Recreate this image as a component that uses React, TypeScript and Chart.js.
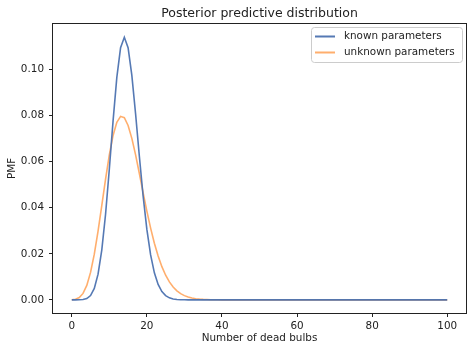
import React, { useEffect, useRef } from "react";
import { Chart, registerables } from "chart.js";

Chart.register(...registerables);

const numDead = [
  0, 1, 2, 3, 4, 5, 6, 7, 8, 9, 10, 11, 12, 13, 14, 15, 16, 17, 18, 19, 20,
  21, 22, 23, 24, 25, 26, 27, 28, 29, 30, 31, 32, 33, 34, 35, 36, 37, 38, 39, 40,
  41, 42, 43, 44, 45, 46, 47, 48, 49, 50, 51, 52, 53, 54, 55, 56, 57, 58, 59, 60,
  61, 62, 63, 64, 65, 66, 67, 68, 69, 70, 71, 72, 73, 74, 75, 76, 77, 78, 79, 80,
  81, 82, 83, 84, 85, 86, 87, 88, 89, 90, 91, 92, 93, 94, 95, 96, 97, 98, 99, 100,
];

const knownParams = [
  0.0, 0.0, 0.00003, 0.00014, 0.00058, 0.00187, 0.00496, 0.01115, 0.02172, 0.0372,
  0.05671, 0.07774, 0.0966, 0.10955, 0.11405, 0.10955, 0.09751, 0.08072, 0.06236, 0.04509,
  0.0306, 0.01953, 0.01175, 0.00668, 0.00359, 0.00183, 0.00088, 0.00041, 0.00018, 0.00007,
  0.00003, 0.00001, 0, 0, 0, 0, 0, 0, 0, 0,
  0, 0, 0, 0, 0, 0, 0, 0, 0, 0,
  0, 0, 0, 0, 0, 0, 0, 0, 0, 0,
  0, 0, 0, 0, 0, 0, 0, 0, 0, 0,
  0, 0, 0, 0, 0, 0, 0, 0, 0, 0,
  0, 0, 0, 0, 0, 0, 0, 0, 0, 0,
  0, 0, 0, 0, 0, 0, 0, 0, 0, 0,
  0,
];

const unknownParams = [
  0.00003, 0.00025, 0.001, 0.0028, 0.00628, 0.01192, 0.01986, 0.02981, 0.04102, 0.05243,
  0.06291, 0.0714, 0.07712, 0.0797, 0.07913, 0.07576, 0.07013, 0.06295, 0.05489, 0.0466,
  0.03857, 0.03117, 0.02462, 0.01903, 0.01441, 0.0107, 0.0078, 0.00558, 0.00392, 0.00271,
  0.00184, 0.00122, 0.00081, 0.00052, 0.00033, 0.00021, 0.00013, 0.00008, 0.00005, 0.00003,
  0.00002, 0, 0, 0, 0, 0, 0, 0, 0, 0,
  0, 0, 0, 0, 0, 0, 0, 0, 0, 0,
  0, 0, 0, 0, 0, 0, 0, 0, 0, 0,
  0, 0, 0, 0, 0, 0, 0, 0, 0, 0,
  0, 0, 0, 0, 0, 0, 0, 0, 0, 0,
  0, 0, 0, 0, 0, 0, 0, 0, 0, 0,
  0,
];

const xTicks = [0, 20, 40, 60, 80, 100];
const yTicks = [0, 0.02, 0.04, 0.06, 0.08, 0.1];

const seriesLabels = ["known parameters", "unknown parameters"];
const seriesColors = ["rgba(76,114,176,0.95)", "rgba(255,135,40,0.68)"];

const titleText = "Posterior predictive distribution";
const xTitle = "Number of dead bulbs";
const yTitle = "PMF";

const FONT = "'DejaVu Sans', Verdana, sans-serif";
const TEXT = "#222222";
const SMALL = 10.4;
const BIG = 12.5;

const framePlugin = {
  id: "frameAndExtras",
  afterDraw(chart: any) {
    const { ctx, chartArea } = chart;
    const { left, right, top, bottom } = chartArea;
    ctx.save();
    ctx.strokeStyle = "#222222";
    ctx.lineWidth = 1;
    ctx.strokeRect(Math.round(left) - 0.5, Math.round(top) - 0.5, Math.round(right - left) + 1, Math.round(bottom - top) + 1);
    ctx.fillStyle = TEXT;
    ctx.font = `${BIG}px ${FONT}`;
    ctx.textAlign = "center";
    ctx.textBaseline = "alphabetic";
    ctx.fillText(titleText, (left + right) / 2, 17);
    const bx = 311.5, by = 27.5, bw = 151, bh = 35, r = 3;
    ctx.beginPath();
    ctx.moveTo(bx + r, by);
    ctx.lineTo(bx + bw - r, by);
    ctx.arcTo(bx + bw, by, bx + bw, by + r, r);
    ctx.lineTo(bx + bw, by + bh - r);
    ctx.arcTo(bx + bw, by + bh, bx + bw - r, by + bh, r);
    ctx.lineTo(bx + r, by + bh);
    ctx.arcTo(bx, by + bh, bx, by + bh - r, r);
    ctx.lineTo(bx, by + r);
    ctx.arcTo(bx, by, bx + r, by, r);
    ctx.closePath();
    ctx.fillStyle = "rgba(255,255,255,0.8)";
    ctx.fill();
    ctx.strokeStyle = "#cccccc";
    ctx.lineWidth = 1;
    ctx.stroke();
    const rows = [36.5, 52.5];
    chart.data.datasets.forEach((ds: any, i: number) => {
      const y = rows[i];
      ctx.strokeStyle = ds.borderColor;
      ctx.lineWidth = 2;
      ctx.beginPath();
      ctx.moveTo(315, y);
      ctx.lineTo(335, y);
      ctx.stroke();
      ctx.fillStyle = TEXT;
      ctx.font = `${SMALL}px ${FONT}`;
      ctx.textAlign = "left";
      ctx.textBaseline = "middle";
      ctx.fillText(ds.label, 344, y);
    });
    ctx.restore();
  },
};

export default function App() {
  const ref = useRef<HTMLCanvasElement | null>(null);

  useEffect(() => {
    document.body.style.margin = "0";
    const canvas = ref.current;
    if (!canvas) return;
    Chart.defaults.font.family = FONT;
    const chart = new Chart(canvas, {
      type: "line",
      data: {
        datasets: [
          {
            label: seriesLabels[0],
            data: numDead.map((x, i) => ({ x, y: knownParams[i] })),
            borderColor: seriesColors[0],
            borderWidth: 1.6,
            pointRadius: 0,
            tension: 0,
            fill: false,
          },
          {
            label: seriesLabels[1],
            data: numDead.map((x, i) => ({ x, y: unknownParams[i] })),
            borderColor: seriesColors[1],
            borderWidth: 1.6,
            pointRadius: 0,
            tension: 0,
            fill: false,
          },
        ],
      },
      options: {
        responsive: false,
        animation: false,
        devicePixelRatio: 1,
        layout: { padding: { left: 0, right: 6, top: 24, bottom: 0 } },
        plugins: {
          legend: { display: false },
          title: { display: false },
          tooltip: { enabled: false },
        },
        scales: {
          x: {
            type: "linear",
            min: -5,
            max: 105,
            afterBuildTicks: (axis: any) => {
              axis.ticks = xTicks.map((v) => ({ value: v }));
            },
            afterFit: (s: any) => {
              s.height = 39;
            },
            ticks: {
              color: TEXT,
              font: { size: SMALL, family: FONT },
              padding: 3,
              maxRotation: 0,
              autoSkip: false,
              callback: (v: any) => String(v),
            },
            grid: {
              display: true,
              drawOnChartArea: false,
              drawTicks: true,
              tickLength: 4,
              tickColor: "#222222",
              tickWidth: 1,
            },
            border: { display: false },
            title: {
              display: true,
              text: xTitle,
              color: TEXT,
              font: { size: SMALL, family: FONT },
              padding: { top: 0, bottom: 7 },
            },
          },
          y: {
            type: "linear",
            min: -0.0057,
            max: 0.1198,
            afterBuildTicks: (axis: any) => {
              axis.ticks = yTicks.map((v) => ({ value: v }));
            },
            afterFit: (s: any) => {
              s.width = 53;
            },
            ticks: {
              color: TEXT,
              font: { size: SMALL, family: FONT },
              padding: 5,
              autoSkip: false,
              callback: (v: any) => Number(v).toFixed(2),
            },
            grid: {
              display: true,
              drawOnChartArea: false,
              drawTicks: true,
              tickLength: 4,
              tickColor: "#222222",
              tickWidth: 1,
            },
            border: { display: false },
            title: {
              display: true,
              text: yTitle,
              color: TEXT,
              font: { size: SMALL, family: FONT },
              padding: { top: 6, bottom: 0 },
              align: "center",
            },
          },
        },
      },
      plugins: [framePlugin],
    } as any);
    return () => chart.destroy();
  }, []);

  return (
    <div style={{ width: 472, height: 352, background: "#ffffff" }}>
      <canvas ref={ref} width={472} height={352} style={{ display: "block" }} />
    </div>
  );
}
